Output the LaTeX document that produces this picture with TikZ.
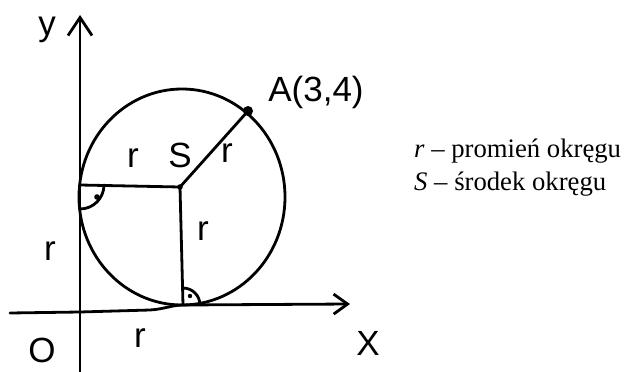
\documentclass[tikz,border=0pt]{standalone}
\usepackage{fontspec}
\setmainfont{Liberation Serif}
\newfontfamily\handfont{Liberation Sans}
\usetikzlibrary{arrows.meta,calc}
\tikzset{
  hand/.style={line width=2.8pt, line cap=round, line join=round, black},
  hlabel/.style={font=\handfont\fontsize{35}{35}\selectfont, inner sep=0pt},
  legend/.style={font=\fontsize{26.7}{33}\selectfont, anchor=base west, inner sep=0pt},
  bigarrow/.style={-{Straight Barb[length=18pt,width=24pt]}},
  smallarrow/.style={-{Straight Barb[length=14pt,width=20pt]}}
}
\begin{document}
\begin{tikzpicture}[x=1pt,y=-1pt]
\useasboundingbox (0,0) rectangle (624,372);
\fill[white] (0,0) rectangle (624,372);
% key points
\coordinate (S) at (180,187);
\coordinate (A) at (248,111);
\coordinate (T1) at (80,185);
\coordinate (T2) at (183,305);
\coordinate (O) at (80,312);
\coordinate (ybot) at (80,372);
\coordinate (ytop) at (80,15);
\coordinate (xleft) at (10,313);
\coordinate (xbend) at (150,310);
\coordinate (xtip) at (350,304);
% axes
\draw[hand, bigarrow] (ybot) -- (ytop);
\draw[hand, smallarrow] (xleft) -- (O) -- (xbend) .. controls (165,309) and (172,305) .. (T2) -- (xtip);
% circle
\draw[hand] (182,197) ellipse [x radius=103, y radius=108];
% radii
\draw[hand] (T1) -- (S);
\draw[hand] (S) -- (T2);
\draw[hand] (S) -- (A);
\fill (A) circle (5);
\fill (S) circle (2.8);
% right angle marks
\draw[hand] ($(T1)+(24,0)$) arc [start angle=0, end angle=90, radius=24];
\fill (97,197) circle (2.8);
\draw[hand] ($(T2)+(0,-17)$) arc [start angle=270, end angle=360, radius=17];
\fill (190,296) circle (2.2);
% labels
\node[hlabel] (ylab) at (47,30) {y};
\node[hlabel] (Alab) at (316,92) {A(3,4)};
\node[hlabel] (r1) at (133,158) {r};
\node[hlabel] (Slab) at (180,155) {S};
\node[hlabel] (r2) at (227,153) {r};
\node[hlabel] (r3) at (203,231) {r};
\node[hlabel] (r4) at (50,251) {r};
\node[hlabel] (r5) at (140,338) {r};
\node[hlabel] (Olab) at (42,350) {O};
\node[hlabel] (Xlab) at (368,343) {X};
% legend
\node[legend] (leg1) at (414,157) {\itshape r\upshape\ – promień okręgu};
\node[legend] (leg2) at (414,190) {\itshape S\upshape\ – środek okręgu};
\end{tikzpicture}
\end{document}
